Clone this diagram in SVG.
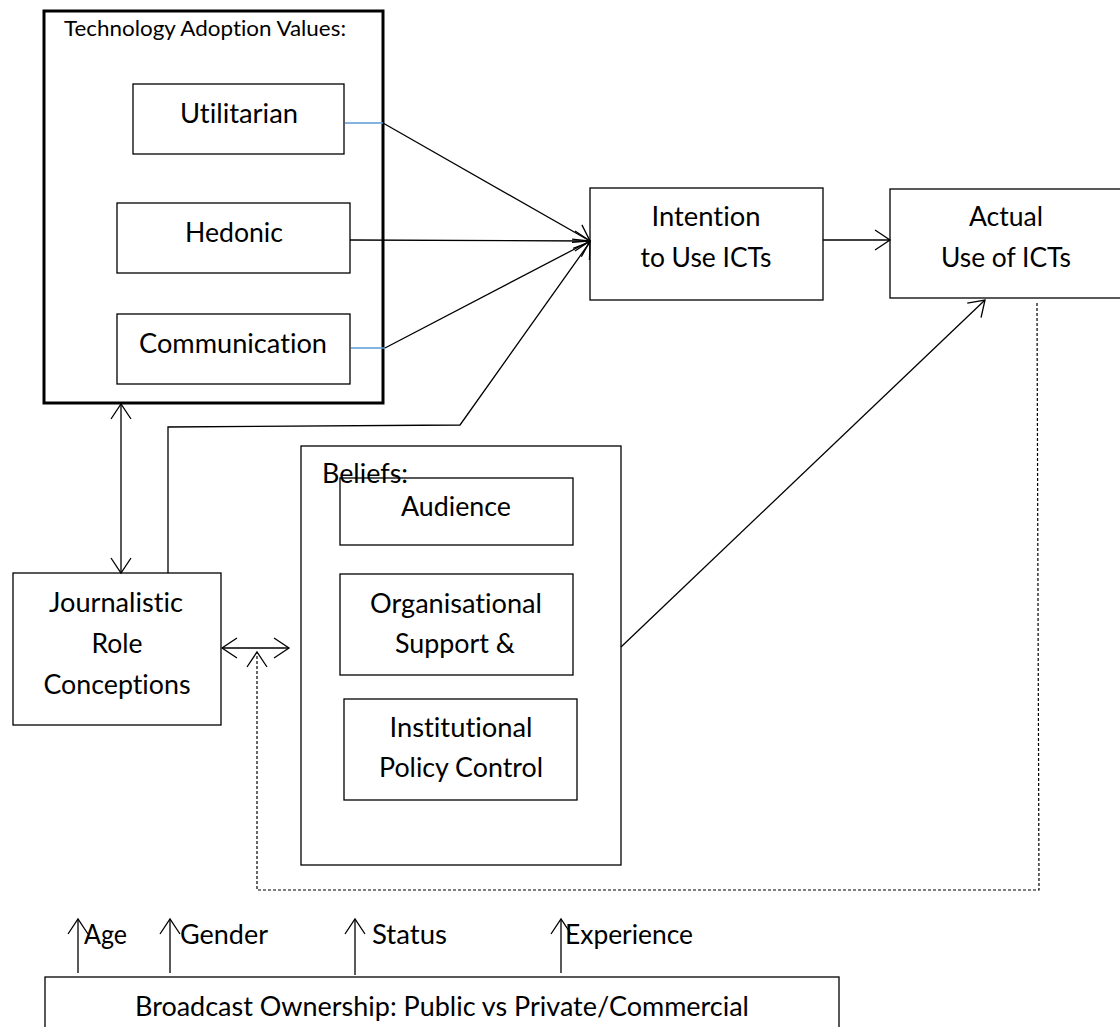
<svg xmlns="http://www.w3.org/2000/svg" width="1120" height="1027" viewBox="0 0 1120 1027">
  <style>
    .box { fill: #fff; stroke: #000; stroke-width: 1.3; }
    .frame { fill: #fff; stroke: #000; stroke-width: 3; }
    .lbl { font-family: Lato, "Open Sans", "Liberation Sans", sans-serif; font-size: 26px; fill: #000; font-variant-ligatures: none; }
    .ttl { font-family: Lato, "Open Sans", "Liberation Sans", sans-serif; font-size: 21px; fill: #000; font-variant-ligatures: none; }
    .mid { text-anchor: middle; }
    .ln { fill: none; stroke: #000; stroke-width: 1.3; }
    .blue { fill: none; stroke: #5B9BD5; stroke-width: 1.3; }
    .dash { fill: none; stroke: #000; stroke-width: 1.2; stroke-dasharray: 3 2; }
    .arr { marker-end: url(#open); }
    .both { marker-start: url(#open); marker-end: url(#open); }
  </style>
  <defs>
    <marker id="open" markerUnits="userSpaceOnUse" markerWidth="18" markerHeight="24" refX="15" refY="10" orient="auto-start-reverse" overflow="visible">
      <path d="M0,0 L15,10 L0,20" fill="none" stroke="#000" stroke-width="1.3"/>
    </marker>
  </defs>

  <!-- Technology adoption values container -->
  <g id="tech-values">
    <rect class="frame" x="44" y="11" width="339" height="392"/>
    <text class="ttl" x="64" y="36" textLength="282" lengthAdjust="spacingAndGlyphs">Technology Adoption Values:</text>
  </g>
  <g id="utilitarian">
    <rect class="box" x="133" y="84" width="211" height="70"/>
    <text class="lbl mid" x="239" y="123" textLength="118" lengthAdjust="spacingAndGlyphs">Utilitarian</text>
  </g>
  <g id="hedonic">
    <rect class="box" x="117" y="203" width="233" height="70"/>
    <text class="lbl mid" x="234" y="242" textLength="98" lengthAdjust="spacingAndGlyphs">Hedonic</text>
  </g>
  <g id="communication">
    <rect class="box" x="117" y="314" width="233" height="70"/>
    <text class="lbl mid" x="233" y="353" textLength="188" lengthAdjust="spacingAndGlyphs">Communication</text>
  </g>

  <g id="intention">
    <rect class="box" x="590" y="188" width="233" height="112"/>
    <text class="lbl mid" x="706" y="226" textLength="109" lengthAdjust="spacingAndGlyphs">Intention</text>
    <text class="lbl mid" x="706" y="267" textLength="131" lengthAdjust="spacingAndGlyphs">to Use ICTs</text>
  </g>
  <g id="actual-use">
    <rect class="box" x="890" y="189" width="250" height="109"/>
    <text class="lbl mid" x="1006" y="226" textLength="74" lengthAdjust="spacingAndGlyphs">Actual</text>
    <text class="lbl mid" x="1006" y="267" textLength="130" lengthAdjust="spacingAndGlyphs">Use of ICTs</text>
  </g>

  <g id="role-conceptions">
    <rect class="box" x="13" y="573" width="208" height="152"/>
    <text class="lbl mid" x="116" y="612" textLength="134" lengthAdjust="spacingAndGlyphs">Journalistic</text>
    <text class="lbl mid" x="117" y="653" textLength="51" lengthAdjust="spacingAndGlyphs">Role</text>
    <text class="lbl mid" x="117" y="694" textLength="147" lengthAdjust="spacingAndGlyphs">Conceptions</text>
  </g>

  <!-- Beliefs container and its three items -->
  <g id="beliefs">
    <rect class="box" x="301" y="446" width="320" height="419"/>
    <text class="lbl" x="322" y="483" textLength="86" lengthAdjust="spacingAndGlyphs">Beliefs:</text>
  </g>
  <g id="audience">
    <rect class="box" x="340" y="478" width="233" height="67" fill-opacity="0"/>
    <text class="lbl mid" x="456" y="516" textLength="110" lengthAdjust="spacingAndGlyphs">Audience</text>
  </g>
  <g id="org-support">
    <rect class="box" x="340" y="574" width="233" height="101"/>
    <text class="lbl mid" x="456" y="613" textLength="172" lengthAdjust="spacingAndGlyphs">Organisational</text>
    <text class="lbl mid" x="455" y="653" textLength="120" lengthAdjust="spacingAndGlyphs">Support &amp;</text>
  </g>
  <g id="policy-control">
    <rect class="box" x="344" y="699" width="233" height="101"/>
    <text class="lbl mid" x="461" y="737" textLength="143" lengthAdjust="spacingAndGlyphs">Institutional</text>
    <text class="lbl mid" x="461" y="777" textLength="164" lengthAdjust="spacingAndGlyphs">Policy Control</text>
  </g>

  <g id="ownership">
    <rect class="box" x="45" y="977" width="794" height="70"/>
    <text class="lbl mid" x="442" y="1016" textLength="614" lengthAdjust="spacingAndGlyphs">Broadcast Ownership: Public vs Private/Commercial</text>
  </g>

  <g id="moderators">
    <text class="lbl" x="84" y="944" textLength="43" lengthAdjust="spacingAndGlyphs">Age</text>
    <text class="lbl" x="180" y="944" textLength="88" lengthAdjust="spacingAndGlyphs">Gender</text>
    <text class="lbl" x="372" y="944" textLength="75" lengthAdjust="spacingAndGlyphs">Status</text>
    <text class="lbl" x="565" y="944" textLength="128" lengthAdjust="spacingAndGlyphs">Experience</text>
  </g>

  <g id="connectors">
    <!-- value boxes to intention -->
    <line class="blue" x1="345" y1="123" x2="383" y2="123"/>
    <line class="blue" x1="351" y1="348" x2="385" y2="348"/>
    <line class="ln arr" x1="383" y1="123" x2="590" y2="241"/>
    <line class="ln arr" x1="350" y1="240" x2="590" y2="241"/>
    <line class="ln arr" x1="385" y1="348" x2="590" y2="241"/>
    <!-- role conceptions to intention -->
    <path class="ln arr" d="M168,573 L168,427 L460,425 L590,242"/>
    <!-- intention to actual use -->
    <line class="ln arr" x1="823" y1="240" x2="890" y2="240"/>
    <!-- beliefs to actual use -->
    <line class="ln arr" x1="621" y1="647" x2="985" y2="300"/>
    <!-- two-way links -->
    <line class="ln both" x1="121" y1="404" x2="121" y2="573"/>
    <line class="ln both" x1="222" y1="648" x2="289" y2="648"/>
    <!-- feedback from actual use -->
    <path class="dash arr" d="M1037,303 L1039,890 L257,890 L257,652"/>
    <!-- moderator arrows -->
    <line class="ln arr" x1="78" y1="973" x2="78" y2="919"/>
    <line class="ln arr" x1="170" y1="973" x2="170" y2="919"/>
    <line class="ln arr" x1="355" y1="975" x2="355" y2="919"/>
    <line class="ln arr" x1="561" y1="973" x2="561" y2="919"/>
  </g>
</svg>
